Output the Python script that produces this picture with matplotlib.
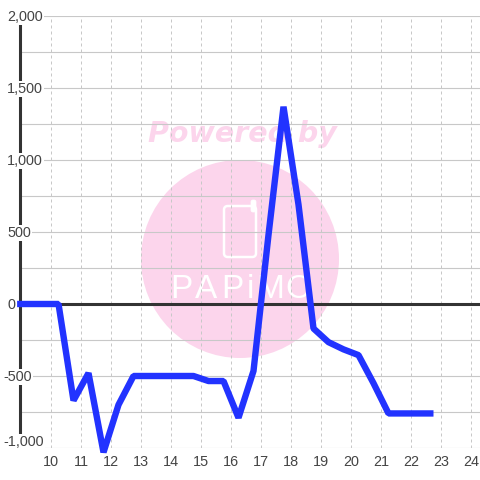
import matplotlib
matplotlib.use("Agg")
import matplotlib.pyplot as plt
from matplotlib.patches import Circle, FancyBboxPatch

# half hour samples
hours = [8.87, 9.25, 9.75, 10.25, 10.75, 11.25, 11.75, 12.25, 12.75, 13.25, 13.75, 14.25, 14.75,
         15.25, 15.75, 16.25, 16.75, 17.25, 17.75, 18.25, 18.75, 19.25, 19.75, 20.25, 20.75,
         21.25, 21.75, 22.25, 22.75]
values = [0, 0, 0, 0, -670, -480, -1030, -700, -500, -500, -500, -500, -500,
          -535, -535, -790, -465, 480, 1370, 690, -170, -265, -315, -355, -550,
          -760, -760, -760, -760]
x_ticks = list(range(10, 25))
y_ticks = [-1000, -500, 0, 500, 1000, 1500, 2000]
y_grid = list(range(-1000, 2001, 250))

W = 480
pink = "#fcd5ec"

plt.rcParams["font.family"] = ["Liberation Sans", "DejaVu Sans"]

fig = plt.figure(figsize=(4.8, 4.8), dpi=100)
ax = fig.add_axes([20 / W, (W - 448) / W, 460 / W, 432 / W])
ax.patch.set_alpha(0)
ax.set_xlim(10 - 31 / 30, 10 + 429 / 30)
ax.set_ylim(-1000, 2000)


def px(x, y):
    return x / W, 1 - y / W


# watermark sits behind the axes, placed in pixels
fig.patches.append(Circle(px(240, 259), 99 / W, transform=fig.transFigure, fc=pink, ec="none", zorder=-5))
fig.patches.append(FancyBboxPatch(px(224, 257), 32 / W, 51 / W, boxstyle="round,pad=0,rounding_size=0.008",
                                  transform=fig.transFigure, fc="none", ec="white", lw=1.8, zorder=-4))
fig.patches.append(FancyBboxPatch(px(251, 212), 5 / W, 12 / W, boxstyle="round,pad=0,rounding_size=0.004",
                                  transform=fig.transFigure, fc="white", ec="white", lw=0.5, zorder=-4))
fig.text(*px(242, 134), "Powered by", color=pink, fontsize=20.5, fontweight="bold", fontstyle="italic",
         family="DejaVu Sans", ha="center", va="center", zorder=-4)
for letter, lx in zip("PAPiMO", [181, 206, 232, 250, 270, 298]):
    fig.text(*px(lx, 290), letter, color="white", fontsize=24, ha="center", va="center", zorder=-4)

ax.set_xticks(x_ticks)
ax.set_yticks([])
ax.hlines(y_grid, 10 - 31 / 30, 10 + 429 / 30, color="#c8c8c8", lw=0.8, zorder=1)
ax.vlines(x_ticks, -1000, 2000, color="#c8c8c8", lw=0.72, linestyles=(0, (3, 3)), zorder=1)
ax.axhline(0, color="#333333", lw=2.2, zorder=2)

for s in ["top", "right", "bottom"]:
    ax.spines[s].set_visible(False)
ax.spines["left"].set_color("#333333")
ax.spines["left"].set_linewidth(2.2)
ax.spines["left"].set_bounds(-917, 1945)
ax.spines["left"].set_zorder(2)

ax.tick_params(which="both", length=0)
ax.tick_params(axis="x", labelsize=10.4, labelcolor="#444444", pad=5)

# y labels are left aligned inside the plot, with a white backing over the axis line
for v in y_ticks:
    left = 3 if v < 0 else 7
    shift = 6 if v == -1000 else -1
    ax.annotate(f"{v:,}", xy=((left - 20) / 460, v), xycoords=("axes fraction", "data"),
                xytext=(0, shift), textcoords="offset pixels", fontsize=10.4, color="#444444",
                ha="left", va="center", annotation_clip=False, zorder=3,
                bbox=dict(fc="white", ec="none", pad=0.8))

ax.plot(hours, values, color="#2233ff", lw=4.6, solid_joinstyle="bevel", solid_capstyle="butt", zorder=4, clip_on=False)

fig.savefig("out.png", dpi=100)
